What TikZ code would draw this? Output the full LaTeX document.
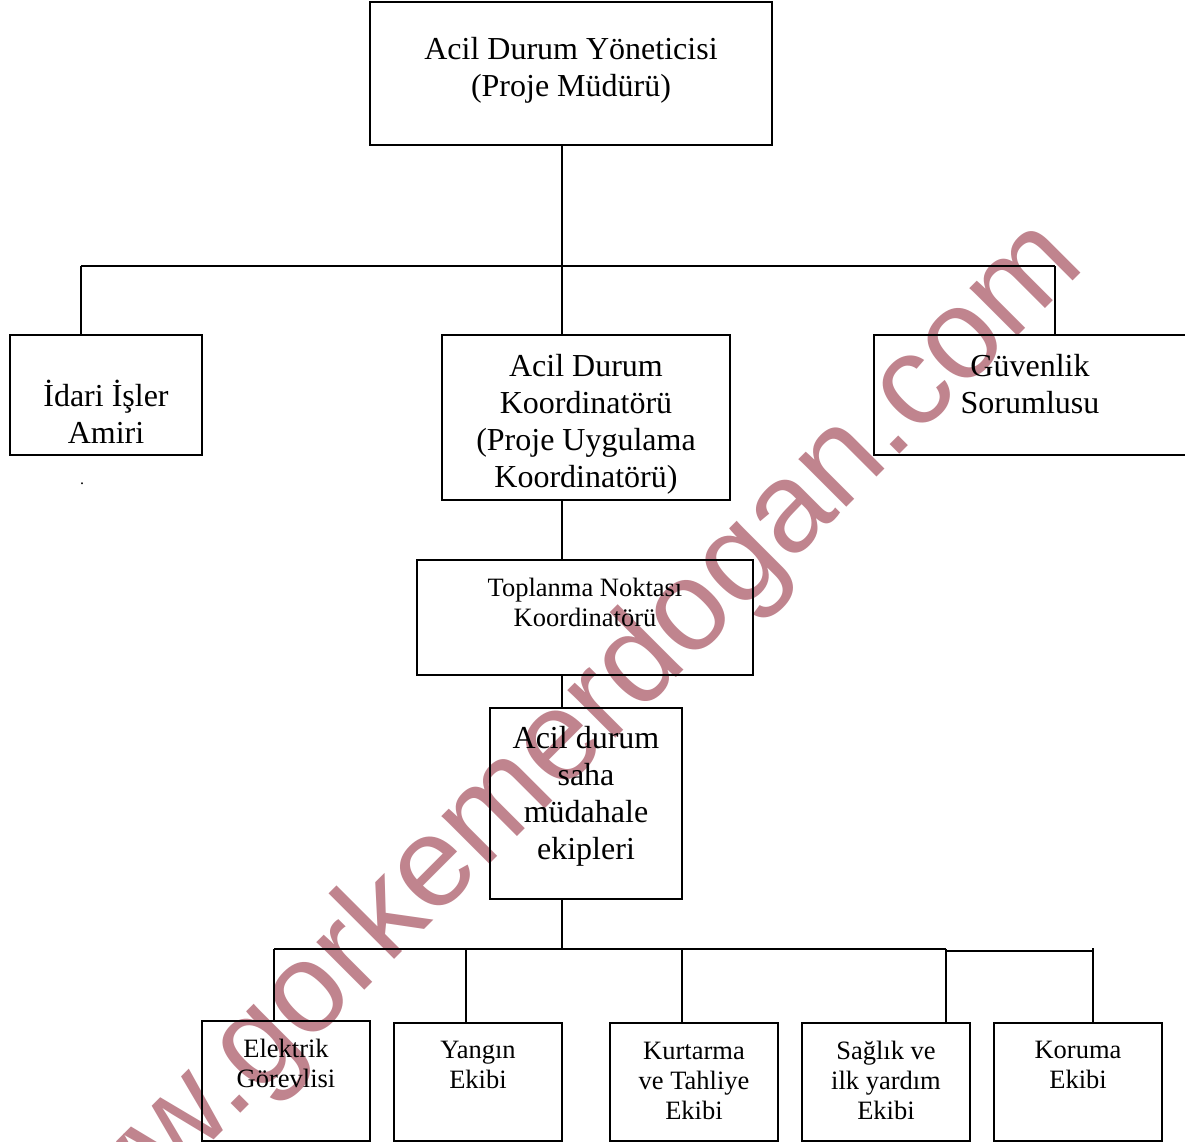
\documentclass[tikz,border=0pt]{standalone}
\usepackage{fontspec}
\setmainfont{Liberation Serif}
\newfontfamily\wmfont{Liberation Sans}
\definecolor{wmcol}{RGB}{192,132,142}
\newcommand{\bigtxt}{\fontsize{32}{37}\selectfont}
\newcommand{\smalltxt}{\fontsize{26.5}{30}\selectfont}
\newcommand{\sL}{\strut}
\begin{document}
\begin{tikzpicture}[x=1pt,y=-1pt,
  box/.style={draw=black, line width=1.5pt, rectangle, inner sep=0pt},
  bigt/.style={align=center, inner sep=0pt, font=\bigtxt},
  smallt/.style={align=center, inner sep=0pt, font=\smalltxt},
  conn/.style={draw=black, line width=1.5pt},
  wmtext/.style={text=wmcol, inner sep=0pt, font=\wmfont\fontsize{128}{128}\selectfont}]
\useasboundingbox (0,0) rectangle (1185,1142);
\clip (0,0) rectangle (1185,1142);
\fill[white] (0,0) rectangle (1185,1142);

% watermark
\node[wmtext, rotate=45, anchor=base west] (wm) at (41,1313) {www.gorkemerdogan.com};

% boxes
\node[box, minimum width=402, minimum height=143] (top) at (571,73.5) {};
\node[box, minimum width=192, minimum height=120] (idari) at (106,395) {};
\node[box, minimum width=288, minimum height=165] (koord) at (586,417.5) {};
\node[box, minimum width=314, minimum height=120] (guv) at (1031,395) {};
\node[box, minimum width=336, minimum height=115] (topl) at (585,617.5) {};
\node[box, minimum width=192, minimum height=191] (saha) at (586,803.5) {};
\node[box, minimum width=168, minimum height=120] (elek) at (286,1081) {};
\node[box, minimum width=168, minimum height=118] (yang) at (478,1082) {};
\node[box, minimum width=168, minimum height=118] (kurt) at (694,1082) {};
\node[box, minimum width=168, minimum height=118] (sag) at (886,1082) {};
\node[box, minimum width=168, minimum height=118] (kor) at (1078,1082) {};

% texts
\node[bigt] (top-t) at (571,70.5) {\sL Acil Durum Yöneticisi\\\sL (Proje Müdürü)};
\node[bigt] (idari-t) at (106,417.5) {\sL İdari İşler\\\sL Amiri};
\node[bigt] (koord-t) at (586,424.5) {\sL Acil Durum\\\sL Koordinatörü\\\sL (Proje Uygulama\\\sL Koordinatörü)};
\node[bigt] (guv-t) at (1030,387.5) {\sL Güvenlik\\\sL Sorumlusu};
\node[smallt] (topl-t) at (585,605) {\sL Toplanma Noktası\\\sL Koordinatörü};
\node[bigt] (saha-t) at (586,796.5) {\sL Acil durum\\\sL saha\\\sL müdahale\\\sL ekipleri};
\node[smallt] (elek-t) at (286,1066) {\sL Elektrik\\\sL Görevlisi};
\node[smallt] (yang-t) at (478,1067.5) {\sL Yangın\\\sL Ekibi};
\node[smallt] (kurt-t) at (694,1083) {\sL Kurtarma\\\sL ve Tahliye\\\sL Ekibi};
\node[smallt] (sag-t) at (886,1083) {\sL Sağlık ve\\\sL ilk yardım\\\sL Ekibi};
\node[smallt] (kor-t) at (1078,1067.5) {\sL Koruma\\\sL Ekibi};
\node[inner sep=0pt, font=\fontsize{16}{16}\selectfont] (dot) at (82,484) {.};

% connectors
\coordinate (b1m) at (562,266);
\coordinate (b1l) at (81,266);
\coordinate (b1r) at (1055,266);
\draw[conn] (top.south -| b1m) -- (b1m);
\draw[conn] (b1l) -- (b1r);
\draw[conn] (b1l) -- (idari.north -| b1l);
\draw[conn] (b1m) -- (koord.north -| b1m);
\draw[conn] (b1r) -- (guv.north -| b1r);
\draw[conn] (koord.south -| b1m) -- (topl.north -| b1m);
\draw[conn] (topl.south -| b1m) -- (saha.north -| b1m);

\coordinate (b2m) at (562,949);
\coordinate (b2l) at (274,949);
\coordinate (b2a) at (466,949);
\coordinate (b2b) at (682,949);
\coordinate (b2c) at (946,949);
\coordinate (b2d) at (946,951);
\coordinate (b2e) at (1093,951);
\coordinate (b2f) at (1093,948);
\draw[conn] (saha.south -| b2m) -- (b2m);
\draw[conn] (b2l) -- (b2c);
\draw[conn] (b2d) -- (b2e);
\draw[conn] (b2l) -- (elek.north -| b2l);
\draw[conn] (b2a) -- (yang.north -| b2a);
\draw[conn] (b2b) -- (kurt.north -| b2b);
\draw[conn] (b2c) -- (sag.north -| b2c);
\draw[conn] (b2f) -- (kor.north -| b2f);
\end{tikzpicture}
\end{document}
